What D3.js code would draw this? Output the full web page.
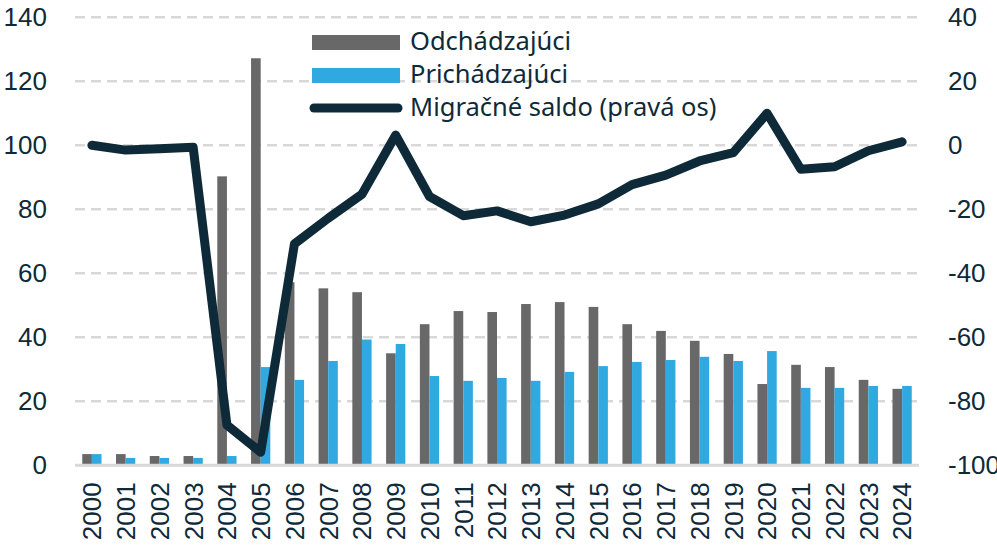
<!DOCTYPE html>
<html>
<head>
<meta charset="utf-8">
<script src="https://cdn.jsdelivr.net/npm/d3@7"></script>
<style>
  body { margin: 0; background: #fff; }
  .tick text { font-family: "Liberation Sans", Arial, sans-serif; font-size: 26px; fill: #0e2a39; }
  .legend text { font-family: "Noto Sans", sans-serif; font-size: 25.5px; fill: #0e2a39; }
</style>
</head>
<body>
<svg id="chart"></svg>
<script>
/* DATA */
const years = ["2000","2001","2002","2003","2004","2005","2006","2007","2008","2009","2010","2011",
  "2012","2013","2014","2015","2016","2017","2018","2019","2020","2021","2022","2023","2024"];
// odchadzajuci (left axis)
const outgoing = [3.5, 3.5, 2.9, 2.9, 90.3, 127.2, 57.2, 55.3, 54.1, 35.0, 44.1, 48.2,
  47.9, 50.4, 51.0, 49.5, 44.1, 42.0, 38.9, 34.8, 25.4, 31.4, 30.7, 26.7, 23.9];
// prichadzajuci (left axis)
const incoming = [3.5, 2.3, 2.3, 2.3, 2.9, 30.7, 26.7, 32.6, 39.3, 37.9, 27.9, 26.4,
  27.3, 26.4, 29.2, 31.0, 32.3, 32.9, 33.9, 32.6, 35.7, 24.2, 24.2, 24.8, 24.8];
// migracne saldo (right axis)
const netMigration = [0, -1.5, -1.1, -0.6, -87.4, -95.9, -30.8, -22.8, -15.3, 3.2, -16.0, -22.0,
  -20.5, -23.9, -21.8, -18.3, -12.3, -9.3, -4.9, -2.3, 10.0, -7.5, -6.7, -1.7, 1.1];
const leftTicks = [0, 20, 40, 60, 80, 100, 120, 140];
const rightTicks = [-100, -80, -60, -40, -20, 0, 20, 40];
const legendLabels = ["Odchádzajúci", "Prichádzajúci", "Migračné saldo (pravá os)"];

/* CONSTANTS */
const width = 997, height = 548;
const plot = { left: 75, right: 919, top: 17.3, bottom: 465.3 };
const colors = { out: "#686868", in: "#30a9e0", line: "#0e2a39", grid: "#d9d9d9" };

const svg = d3.select("#chart").attr("width", width).attr("height", height);

/* SCALES */
const xScale = d3.scaleBand().domain(years).range([plot.left, plot.right]).padding(0);
const yLeft = d3.scaleLinear().domain([0, 140]).range([plot.bottom, plot.top]);
const yRight = d3.scaleLinear().domain([-100, 40]).range([plot.bottom, plot.top]);
const barW = xScale.bandwidth() * 0.285;
const cx = d => xScale(d) + xScale.bandwidth() / 2;

/* GRIDLINES */
svg.append("g")
  .selectAll("line")
  .data(leftTicks.filter(d => d > 0))
  .join("line")
  .attr("x1", plot.left).attr("x2", plot.right)
  .attr("y1", d => yLeft(d)).attr("y2", d => yLeft(d))
  .attr("stroke", colors.grid)
  .attr("stroke-width", 2.5)
  .attr("stroke-dasharray", "10,6");

/* BARS */
svg.append("g")
  .selectAll("rect")
  .data(years)
  .join("rect")
  .attr("x", d => cx(d) - barW)
  .attr("y", (d, i) => yLeft(outgoing[i]))
  .attr("width", barW)
  .attr("height", (d, i) => yLeft(0) - yLeft(outgoing[i]))
  .attr("fill", colors.out);

svg.append("g")
  .selectAll("rect")
  .data(years)
  .join("rect")
  .attr("x", d => cx(d))
  .attr("y", (d, i) => yLeft(incoming[i]))
  .attr("width", barW)
  .attr("height", (d, i) => yLeft(0) - yLeft(incoming[i]))
  .attr("fill", colors.in);

// x axis baseline
svg.append("line")
  .attr("x1", plot.left).attr("x2", plot.right)
  .attr("y1", yLeft(0)).attr("y2", yLeft(0))
  .attr("stroke", colors.grid)
  .attr("stroke-width", 3);

/* LINE */
const lineFunction = d3.line()
  .x((d, i) => cx(years[i]))
  .y(d => yRight(d));

svg.append("path")
  .datum(netMigration)
  .attr("d", lineFunction)
  .attr("fill", "none")
  .attr("stroke", colors.line)
  .attr("stroke-width", 9)
  .attr("stroke-linejoin", "round")
  .attr("stroke-linecap", "round");

/* AXES */
const yAxisLeft = svg.append("g")
  .attr("transform", `translate(${plot.left},0)`)
  .call(d3.axisLeft(yLeft).tickValues(leftTicks).tickSize(0).tickPadding(28));
yAxisLeft.select(".domain").remove();

const yAxisRight = svg.append("g")
  .attr("transform", `translate(${plot.right},0)`)
  .call(d3.axisRight(yRight).tickValues(rightTicks).tickSize(0).tickPadding(29)
    .tickFormat(d => String(d)));  // plain hyphen, like the original
yAxisRight.select(".domain").remove();

const xAxisGroup = svg.append("g")
  .attr("transform", `translate(0,${plot.bottom})`)
  .call(d3.axisBottom(xScale).tickSize(0));
xAxisGroup.select(".domain").remove();
xAxisGroup.selectAll("text")
  .attr("transform", "rotate(-90)")
  .attr("text-anchor", "end")
  .attr("dy", "0.36em")
  .attr("x", -17)
  .attr("y", 0);

/* LEGEND */
const legend = svg.append("g").attr("class", "legend");
legend.append("rect").attr("x", 312).attr("y", 35).attr("width", 88).attr("height", 15).attr("fill", colors.out);
legend.append("rect").attr("x", 312).attr("y", 68).attr("width", 88).attr("height", 15).attr("fill", colors.in);
legend.append("line").attr("x1", 314).attr("x2", 398).attr("y1", 108).attr("y2", 108)
  .attr("stroke", colors.line).attr("stroke-width", 9).attr("stroke-linecap", "round");
legend.selectAll("text")
  .data(legendLabels)
  .join("text")
  .attr("x", 410)
  .attr("y", (d, i) => [50, 83, 116][i])
  .text(d => d);
</script>
</body>
</html>
